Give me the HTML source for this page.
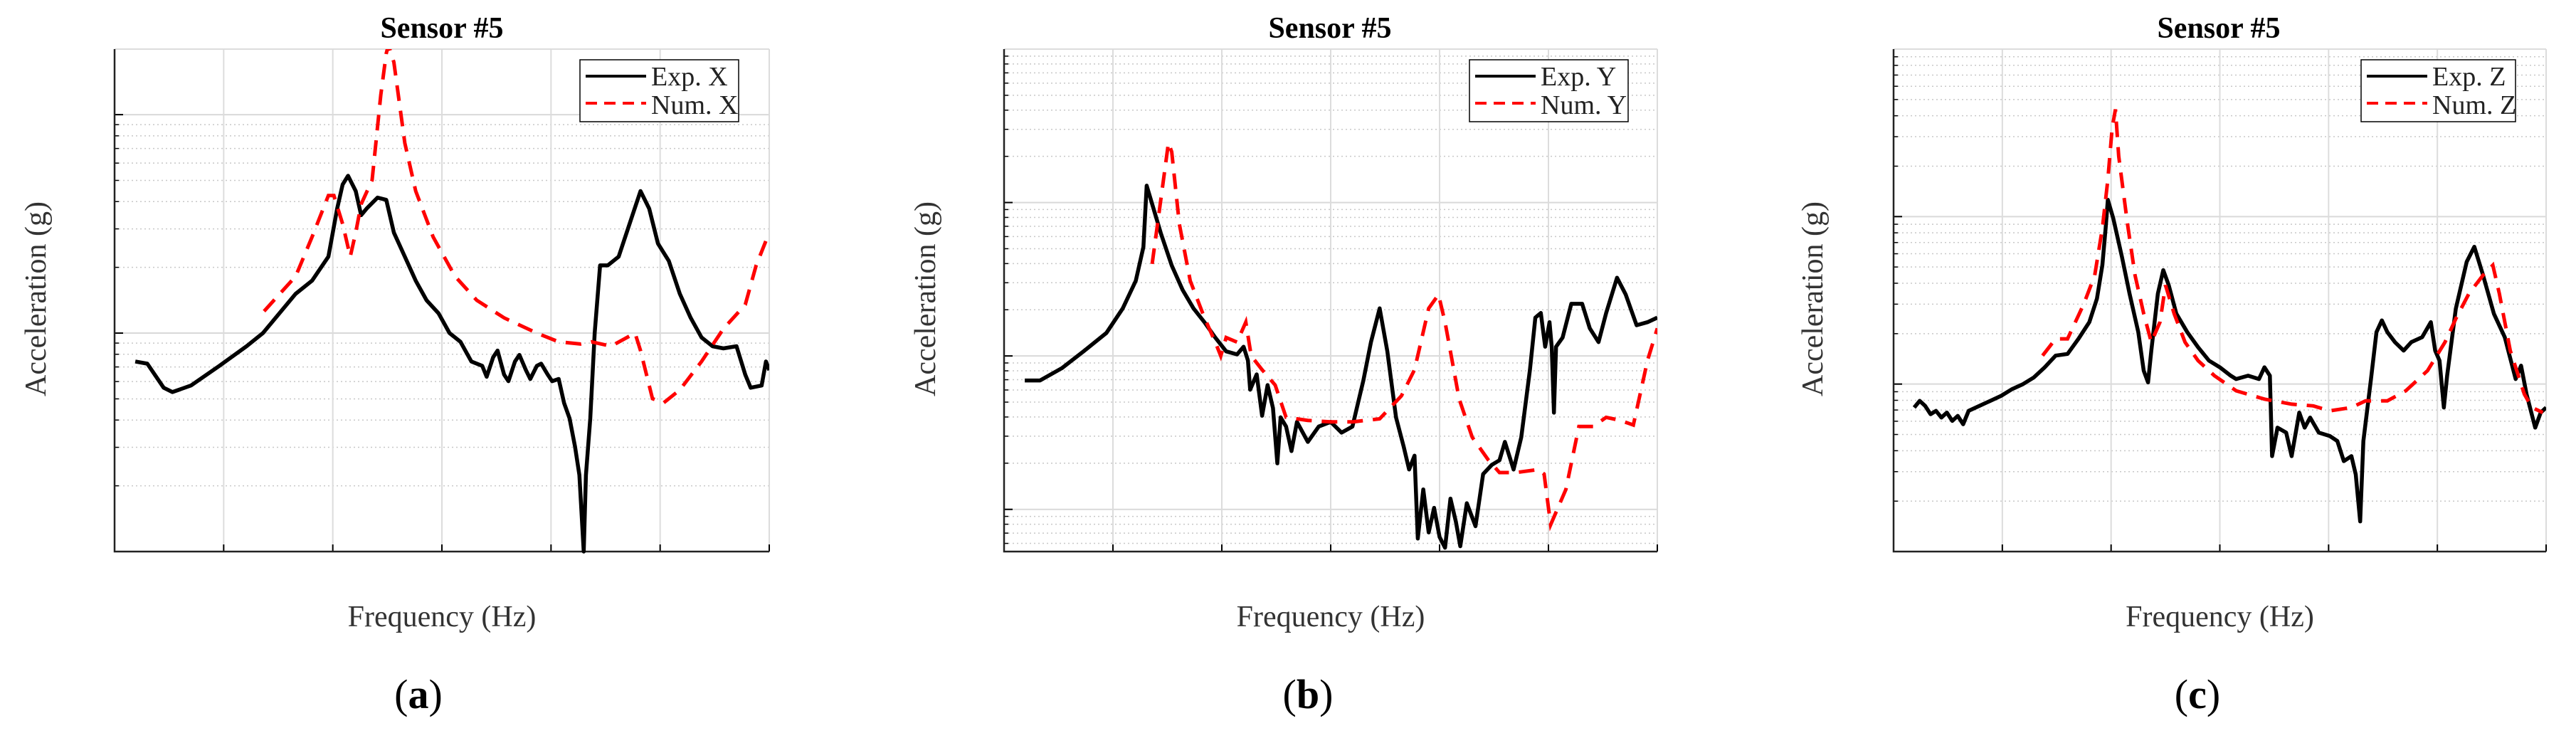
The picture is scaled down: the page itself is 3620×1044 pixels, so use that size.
<!DOCTYPE html>
<html><head><meta charset="utf-8"><style>
html,body{margin:0;padding:0;background:#fff;}
svg{display:block;}
text{font-family:"Liberation Serif",serif;}
</style></head><body>
<svg id="fig" xmlns="http://www.w3.org/2000/svg" width="3620" height="1044" viewBox="0 0 3620 1044"></svg>
<script>
// frequency ticks (Hz, arbitrary units), log10 amplitude values
const freqTicks = [0,100,200,300,400,500,600];
const expX_f = [19,30,45,53,70,96,121,136,151,166,181,196,204,209,214,221,226,231,241,249,256,266,276,286,297,307,317,327,337,341,347,351,357,361,367,371,377,381,387,391,397,401,407,412,417,422,426,430,432,436,440,445,452,462,472,482,490,498,508,518,528,538,548,558,570,578,583,593,597,600];
const expX_v = [0.87,0.86,0.75,0.73,0.76,0.85,0.94,1.00,1.09,1.18,1.24,1.35,1.57,1.68,1.72,1.65,1.54,1.57,1.62,1.61,1.46,1.35,1.24,1.15,1.09,1.00,0.96,0.87,0.85,0.80,0.89,0.92,0.81,0.78,0.87,0.90,0.83,0.79,0.85,0.86,0.81,0.78,0.79,0.68,0.61,0.48,0.35,0.00,0.35,0.61,1.00,1.31,1.31,1.35,1.50,1.65,1.57,1.41,1.33,1.18,1.07,0.98,0.94,0.93,0.94,0.81,0.75,0.76,0.87,0.83];
const numX_f = [137,166,181,196,201,209,216,221,226,236,244,249,251,256,266,276,292,312,332,357,387,407,427,437,455,477,482,493,503,518,538,558,578,588,600];
const numX_v = [1.10,1.26,1.44,1.63,1.63,1.50,1.35,1.46,1.59,1.70,2.09,2.28,2.32,2.24,1.87,1.65,1.44,1.26,1.15,1.07,1.00,0.96,0.95,0.96,0.94,1.00,0.92,0.70,0.68,0.74,0.87,1.02,1.13,1.31,1.46];
const expY_f = [19,33,53,73,94,109,121,128,131,136,144,154,164,174,184,194,204,214,220,224,226,232,237,242,247,251,254,259,264,269,279,289,300,310,320,324,330,337,345,352,360,367,372,377,380,385,390,395,400,405,410,415,419,425,433,440,448,455,460,468,475,483,488,493,497,501,503,505,507,513,521,531,538,546,553,563,571,581,591,600];
const expY_v = [0.84,0.84,0.92,1.03,1.15,1.31,1.49,1.71,2.11,1.99,1.80,1.59,1.43,1.31,1.22,1.12,1.03,1.01,1.06,0.97,0.78,0.88,0.61,0.81,0.66,0.30,0.60,0.54,0.38,0.57,0.44,0.54,0.57,0.50,0.54,0.66,0.84,1.09,1.31,1.03,0.60,0.41,0.26,0.35,-0.19,0.13,-0.15,0.01,-0.18,-0.25,0.07,-0.08,-0.24,0.04,-0.11,0.23,0.29,0.32,0.44,0.26,0.47,0.91,1.25,1.28,1.06,1.22,1.06,0.63,1.06,1.12,1.34,1.34,1.18,1.09,1.28,1.51,1.40,1.20,1.22,1.25];
const numY_f = [136,144,151,154,161,171,184,194,199,204,214,222,227,237,249,259,279,300,320,345,365,377,390,399,405,418,430,445,455,470,491,496,502,516,528,541,553,566,578,591,600];
const numY_v = [1.60,2.02,2.39,2.33,1.86,1.49,1.25,1.09,1.00,1.12,1.09,1.22,1.00,0.91,0.81,0.60,0.58,0.57,0.57,0.59,0.74,0.91,1.31,1.40,1.22,0.72,0.47,0.32,0.24,0.24,0.26,0.23,-0.10,0.13,0.54,0.54,0.60,0.58,0.55,0.97,1.18];
const expZ_f = [19,24,29,34,39,44,49,54,59,64,69,79,89,99,109,119,129,139,149,160,170,180,187,192,195,197,202,210,217,225,230,234,237,243,248,253,260,270,280,290,300,310,315,326,336,341,346,348,353,361,366,373,378,383,391,401,408,414,421,425,427,429,432,439,444,449,454,461,469,476,486,494,498,502,506,509,517,527,534,542,552,562,572,577,582,590,595,600];
const expZ_v = [0.86,0.90,0.87,0.82,0.84,0.80,0.83,0.78,0.81,0.76,0.84,0.87,0.90,0.93,0.97,1.00,1.04,1.10,1.17,1.18,1.27,1.37,1.51,1.71,1.93,2.10,1.99,1.76,1.54,1.31,1.08,1.01,1.20,1.54,1.68,1.59,1.42,1.31,1.22,1.14,1.10,1.05,1.03,1.05,1.03,1.10,1.05,0.57,0.74,0.71,0.57,0.83,0.74,0.80,0.71,0.69,0.66,0.54,0.57,0.46,0.32,0.18,0.66,1.03,1.31,1.38,1.31,1.25,1.20,1.25,1.28,1.37,1.20,1.14,0.86,1.05,1.45,1.73,1.82,1.65,1.42,1.28,1.03,1.11,0.94,0.74,0.83,0.86];
const numZ_f = [137,149,160,175,185,192,197,201,204,207,215,222,230,237,245,250,258,268,280,295,315,341,366,386,401,421,434,454,471,491,507,517,529,542,551,557,567,580,587,597];
const numZ_v = [1.17,1.27,1.27,1.48,1.65,1.93,2.22,2.53,2.64,2.36,1.96,1.65,1.42,1.25,1.37,1.59,1.42,1.25,1.14,1.05,0.96,0.91,0.88,0.87,0.84,0.86,0.90,0.90,0.96,1.08,1.25,1.39,1.54,1.65,1.71,1.54,1.20,0.94,0.86,0.83];

const NS="http://www.w3.org/2000/svg";
const svg=document.getElementById('fig');
function mk(tag,attrs,parent){const e=document.createElementNS(NS,tag);for(const k in attrs)e.setAttribute(k,attrs[k]);(parent||svg).appendChild(e);return e;}

const panels=[
 {id:'a',x0:161,x1:1081,vmin:0,vmax:2.3,ex:[expX_f,expX_v],nu:[numX_f,numX_v],lx:815,lw:223,tx:621,ylx:50,lab:'a',labx:588,leg:['Exp. X','Num. X']},
 {id:'b',x0:1411,x1:2329,vmin:-0.275,vmax:3,ex:[expY_f,expY_v],nu:[numY_f,numY_v],lx:2065,lw:223,tx:1869,ylx:1300,lab:'b',labx:1838,leg:['Exp. Y','Num. Y']},
 {id:'c',x0:2661,x1:3578,vmin:0,vmax:3,ex:[expZ_f,expZ_v],nu:[numZ_f,numZ_v],lx:3318,lw:217,tx:3118,ylx:2547,lab:'c',labx:3088,leg:['Exp. Z','Num. Z']}
];
const Y0=69,Y1=775;
panels.forEach(p=>{
 const g=mk('g',{});
 
 
 const sx=f=>p.x0+(f-freqTicks[0])/(freqTicks[freqTicks.length-1]-freqTicks[0])*(p.x1-p.x0);
 const sy=v=>Y1-(v-p.vmin)/(p.vmax-p.vmin)*(Y1-Y0);
 const grid=mk('g',{},g);
 
 
 for(let d=Math.floor(p.vmin);d<=Math.ceil(p.vmax);d++){
  for(let k=1;k<=9;k++){
   const v=d+Math.log10(k);
   if(v<p.vmin+0.005||v>p.vmax-0.005)continue;
   const y=sy(v);
   if(k===1){mk('line',{x1:p.x0,x2:p.x1,y1:y,y2:y,stroke:'#d9d9d9','stroke-width':2},grid);mk('line',{x1:p.x0,x2:p.x0+12,y1:y,y2:y,stroke:'#000','stroke-width':2},grid);}
   else{mk('line',{x1:p.x0,x2:p.x1,y1:y,y2:y,stroke:'#c8c8c8','stroke-width':1.5,'stroke-dasharray':'2,4'},grid);mk('line',{x1:p.x0,x2:p.x0+6,y1:y,y2:y,stroke:'#000','stroke-width':1.5},grid);}
  }
 }
 freqTicks.forEach(f=>{const x=sx(f);mk('line',{x1:x,x2:x,y1:Y0,y2:Y1,stroke:'#dcdcdc','stroke-width':2},grid);mk('line',{x1:x,x2:x,y1:Y1,y2:Y1-10,stroke:'#000','stroke-width':2},grid);});
 mk('line',{x1:p.x0,x2:p.x1,y1:Y0,y2:Y0,stroke:'#dcdcdc','stroke-width':2},grid);
 const ax=mk('path',{d:`M${p.x0},${Y0}V${Y1}H${p.x1}`,fill:'none',stroke:'#222','stroke-width':2.5},g);
 
 
 const cid='clip'+p.id;
 const cp=mk('clipPath',{id:cid},g);mk('rect',{x:p.x0,y:Y0,width:p.x1-p.x0,height:Y1-Y0+3},cp);
 const line=(fa,va)=>fa.map((f,i)=>(i?'L':'M')+sx(f).toFixed(1)+','+sy(va[i]).toFixed(1)).join('');
 const e=mk('path',{d:line(p.ex[0],p.ex[1]),fill:'none',stroke:'#000','stroke-width':5.5,'stroke-linejoin':'round','clip-path':`url(#${cid})`},g);
 
 
 const n=mk('path',{d:line(p.nu[0],p.nu[1]),fill:'none',stroke:'#ff0000','stroke-width':5,'stroke-dasharray':'22,14','clip-path':`url(#${cid})`},g);
 
 
 const t=mk('text',{x:p.tx,y:53,'text-anchor':'middle','font-size':42,'font-weight':'bold',fill:'#000'},g);t.textContent='Sensor #5';
 
 
 const xl=mk('text',{x:(p.x0+p.x1)/2,y:880,'text-anchor':'middle','font-size':42,fill:'#333'},g);xl.textContent='Frequency (Hz)';
 
 
 const yl=mk('text',{x:p.ylx+14,y:420,'text-anchor':'middle','font-size':42,fill:'#333',transform:`rotate(-90 ${p.ylx+14} 420)`},g);yl.textContent='Acceleration (g)';
 
 
 const pl=mk('text',{x:p.labx,y:995,'text-anchor':'middle','font-size':58,fill:'#000'},g);
 pl.innerHTML='(<tspan font-weight="bold">'+p.lab+'</tspan>)';
 
 
 const lg=mk('g',{},g);
 
 
 mk('rect',{x:p.lx,y:84,width:p.lw,height:87,fill:'#fff',stroke:'#000','stroke-width':1.5},lg);
 mk('line',{x1:p.lx+8,x2:p.lx+93,y1:107,y2:107,stroke:'#000','stroke-width':4},lg);
 mk('line',{x1:p.lx+8,x2:p.lx+93,y1:145,y2:145,stroke:'#ff0000','stroke-width':4,'stroke-dasharray':'16,10'},lg);
 const l1=mk('text',{x:p.lx+100,y:120,'font-size':38,fill:'#222'},lg);l1.textContent=p.leg[0];
 
 
 const l2=mk('text',{x:p.lx+100,y:160,'font-size':38,fill:'#222'},lg);l2.textContent=p.leg[1];
 
 
});
</script>
</body></html>
